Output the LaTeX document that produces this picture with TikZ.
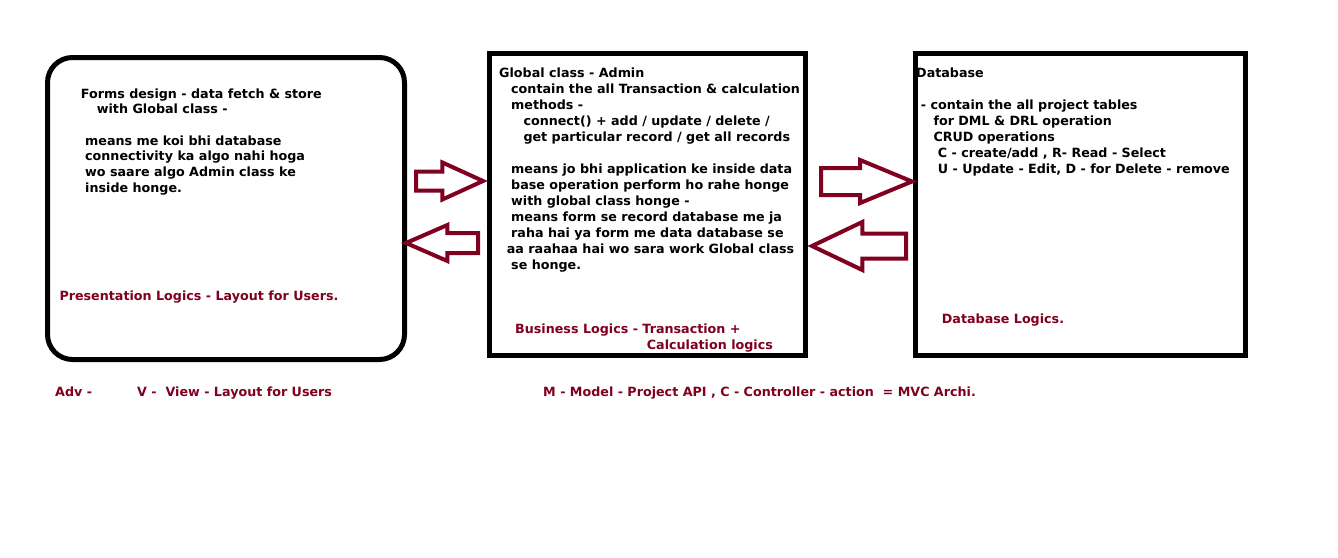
\documentclass[tikz,border=0pt]{standalone}
\usepackage{fontspec}
\usepackage{tikz}
\usetikzlibrary{shapes.arrows}
\setmainfont{DejaVu Sans}
\definecolor{logicRed}{RGB}{128,0,32}

\begin{document}
\begin{tikzpicture}[x=1pt,y=-1pt,
          tier/.style={draw=black,line width=5pt,inner sep=0pt},
          fat/.style={single arrow,draw=logicRed,fill=white,line width=4pt,
                      inner xsep=0pt,anchor=tail},
          txt/.style={anchor=base west,inner sep=0pt,
                      font=\bfseries\fontsize{12.7}{16}\selectfont},
          redtxt/.style={txt,text=logicRed},
        ]
        \fill[white] (0,0) rectangle (1338,557);
        \useasboundingbox (0,0) rectangle (1338,557);
        % forms
        \foreach \x/\y/\t [count=\i] in {80.7/98/{Forms design - data fetch \& store},
            96.7/113.7/{with Global class -},85/145/{means me koi bhi database},
            85/160.8/{connectivity ka algo nahi hoga},85/176.5/{wo saare algo Admin class ke},
            85/192.2/{inside honge.}}{
          \node[txt] (fm\i) at (\x,\y){\t};
        }
        \node[redtxt] (fmlogic) at (59.3,300){Presentation Logics - Layout for Users.};
        % global class
        \foreach \x/\y/\t [count=\i] in {499/77.3/{Global class - Admin},
            511/93.3/{contain the all Transaction \& calculation},511/109.3/{methods -},
            523.3/125.3/{connect() + add / update / delete /},
            523.3/141.3/{get particular record / get all records},
            511/173.3/{means jo bhi application ke inside data},
            511/189.3/{base operation perform ho rahe honge},
            511/205.3/{with global class honge -},
            511/221.3/{means form se record database me ja},
            511/237.3/{raha hai ya form me data database se},
            506.7/253.3/{aa raahaa hai wo sara work Global class},
            511/269.3/{se honge.}}{
          \node[txt] (ad\i) at (\x,\y){\t};
        }
        \node[redtxt] (adlogic1) at (515,333.3){Business Logics - Transaction +};
        \node[redtxt] (adlogic2) at (646.7,349){Calculation logics};
        % database
        \foreach \x/\y/\t [count=\i] in {916/77.3/{Database},
            920.7/109/{- contain the all project tables},933.3/125/{for DML \& DRL operation},
            933.3/141/{CRUD operations},937.7/157/{C - create/add , R- Read - Select},
            937.7/173/{U - Update - Edit, D - for Delete - remove}}{
          \node[txt] (db\i) at (\x,\y){\t};
        }
        \node[redtxt] (dblogic) at (941.7,323.3){Database Logics.};
        % mvc line
        \node[redtxt] (adv) at (55,396){Adv -};
        \node[redtxt] (mvcv) at (137,396){V -\ \ View - Layout for Users};
        \node[redtxt] (mvcmc) at (543,396){M - Model - Project API , C - Controller - action \ = MVC Archi.};
        % the three tiers
        \node[tier,rounded corners=25pt,minimum width=357pt,minimum height=302pt]
             (forms) at (226,208.5){};
        \node[tier,minimum width=316.5pt,minimum height=302.5pt] (admin) at (647.25,204.25){};
        \node[tier,minimum width=329.5pt,minimum height=302.5pt] (dbase) at (1080.25,204.25){};
        % block arrows between the tiers
        \node[fat,single arrow tip angle=49,single arrow head extend=9pt,
              inner ysep=7.5pt,minimum height=67pt] (fa1) at (414,181){};
        \node[fat,shape border rotate=180,single arrow tip angle=47,
              single arrow head extend=8pt,inner ysep=8pt,minimum height=72pt]
             (fa2) at (480,243){};
        \node[fat,single arrow tip angle=45,single arrow head extend=8pt,
              inner ysep=11.5pt,minimum height=91pt] (fa3) at (819,181.5){};
        \node[fat,shape border rotate=180,single arrow tip angle=51,
              single arrow head extend=11.5pt,inner ysep=10.5pt,minimum height=94pt]
             (fa4) at (908,246){};
      \end{tikzpicture}
\end{document}
